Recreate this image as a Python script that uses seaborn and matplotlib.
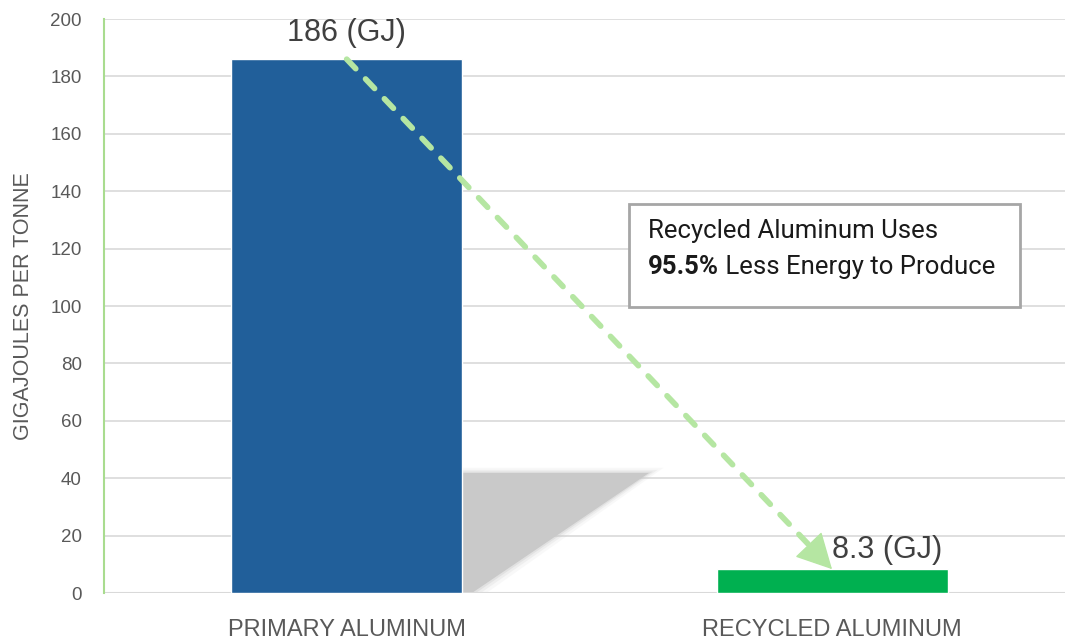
import matplotlib.pyplot as plt
import seaborn as sns
from matplotlib.patches import Polygon, FancyArrowPatch, Rectangle

# chart values
categories = ["PRIMARY ALUMINUM", "RECYCLED ALUMINUM"]
energy_gj = [186, 8.3]
bar_colors = ["#215f9a", "#00b050"]
value_labels = ["186 (GJ)", "8.3 (GJ)"]
y_ticks = [0, 20, 40, 60, 80, 100, 120, 140, 160, 180, 200]
note_line1 = "Recycled Aluminum Uses"
note_bold = "95.5%"
note_rest = " Less Energy to Produce"

sns.set_theme(style="white")
plt.rcParams["font.family"] = ["Liberation Sans", "DejaVu Sans"]

fig = plt.figure(figsize=(10.65, 6.42), dpi=100)
ax = fig.add_axes([0.0977, 0.0763, 0.9023, 0.8941])

sns.barplot(x=categories, y=energy_gj, hue=categories, palette=bar_colors,
            width=0.476, legend=False, saturation=1, ax=ax, zorder=3)

ax.set_xlim(-0.5, 1.48)
ax.set_ylim(0, 200)
ax.set_yticks(y_ticks)
ax.yaxis.grid(True, color="#d9d9d9", lw=1.2, zorder=1)
ax.set_axisbelow(True)

for s in ["top", "right", "bottom"]:
    ax.spines[s].set_visible(False)
ax.spines["left"].set_color("#a9dc8f")
ax.spines["left"].set_linewidth(1.5)
ax.axhline(0, color="#d9d9d9", lw=1.5, zorder=2)

ax.tick_params(axis="y", labelsize=13.5, labelcolor="#595959", length=0, pad=16)
ax.tick_params(axis="x", length=0, pad=19)
for lbl in ax.get_xticklabels():
    lbl.set_fontsize(17)
    lbl.set_color("#595959")
ax.set_xlabel("")
ax.set_ylabel("GIGAJOULES PER TONNE", fontsize=15.5, color="#595959", labelpad=12)

# soft shadow behind the primary bar
bar = ax.patches[0]
bx = bar.get_x() + bar.get_width()
bh = bar.get_height()
for grow, a in [(0.03, 0.12), (0.018, 0.2), (0.008, 0.35), (0.0, 1.0)]:
    top = bh * 0.225 + grow * 60
    shadow = Polygon([(bx, 0), (bx, top), (bx + 0.385 + grow, top), (bx + 0.02 + grow, 0)],
                     closed=True, facecolor="#c9c9c9", edgecolor="none", alpha=a, zorder=1.5)
    ax.add_patch(shadow)

# value labels
ax.text(0, energy_gj[0] + 4, value_labels[0], ha="center", va="bottom",
        fontsize=22, color="#404040", zorder=5)
ax.text(1, energy_gj[1] + 1.3, value_labels[1], ha="left", va="bottom",
        fontsize=22, color="#404040", zorder=5)

# dashed arrow from top of one bar to the other
x0, y0 = 0, energy_gj[0]
x1, y1 = 1, energy_gj[1]
f = 0.965
ax.plot([x0, x0 + (x1 - x0) * f], [y0, y0 + (y1 - y0) * f], color="#b5e6a2", lw=4.1,
        linestyle=(0, (2.3, 2.5)), dash_capstyle="round", zorder=4)
fb = 0.93
head = FancyArrowPatch((x0 + (x1 - x0) * fb, y0 + (y1 - y0) * fb), (x1, y1),
                       arrowstyle="-|>,head_length=1.15,head_width=0.6",
                       mutation_scale=20, color="#b5e6a2", lw=1,
                       shrinkA=0, shrinkB=0, zorder=4)
ax.add_patch(head)

# note box
fig.patches.append(Rectangle((629 / 1065, 1 - 307 / 642), 391 / 1065, 103 / 642,
                             transform=fig.transFigure, facecolor="white",
                             edgecolor="#a6a6a6", lw=2, zorder=6))
note_font = ["Roboto", "DejaVu Sans"]
fig.text(648 / 1065, 1 - 231 / 642, note_line1, fontsize=18.5, color="#1a1a1a",
         family=note_font, va="center", zorder=7)
t = fig.text(648 / 1065, 1 - 267 / 642, note_bold, fontsize=18.5, color="#1a1a1a",
             family=note_font, fontweight="bold", va="center", zorder=7)
fig.canvas.draw()
bb = t.get_window_extent()
fig.text(bb.x1 / 1065, 1 - 267 / 642, note_rest, fontsize=18.5, color="#1a1a1a",
         family=note_font, va="center", zorder=7)

fig.savefig("out.png", dpi=100)
